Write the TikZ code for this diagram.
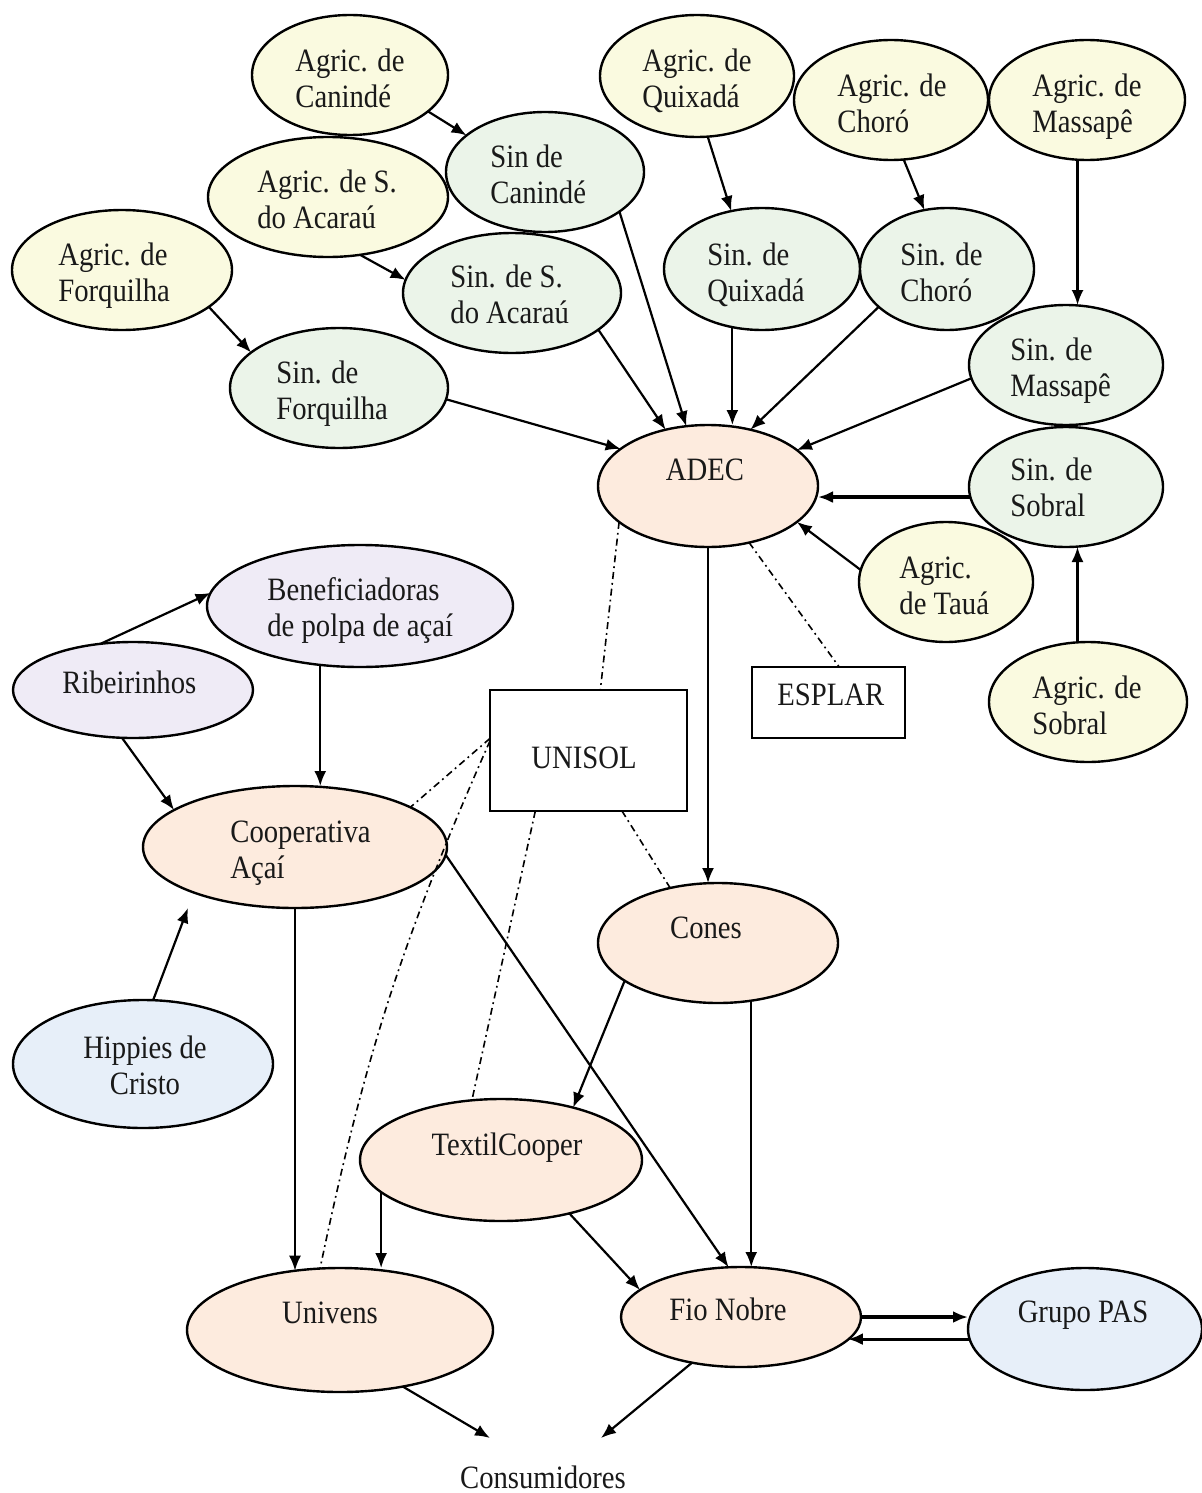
\documentclass[tikz,border=0pt]{standalone}
\usepackage{fontspec}
\setmainfont{Liberation Serif}[FakeStretch=0.88]
\usetikzlibrary{shapes.geometric,arrows.meta,calc}
\definecolor{cyel}{RGB}{250,250,224}
\definecolor{cgrn}{RGB}{235,244,233}
\definecolor{cpnk}{RGB}{253,235,222}
\definecolor{clav}{RGB}{239,235,246}
\definecolor{cblu}{RGB}{231,239,249}
\newcommand\twol[2]{\vtop{\hbox{#1}\hbox{#2}}}
\newcommand\twoc[2]{\vtop{\halign{\hfil##\hfil\cr#1\cr#2\cr}}}
\begin{document}
\begin{tikzpicture}[x=0.5pt,y=-0.5pt,
  ell/.style={ellipse, draw=black, line width=1.2pt, inner sep=0pt, outer sep=0pt},
  box/.style={rectangle, draw=black, line width=1.2pt, inner sep=0pt, outer sep=0pt, fill=white},
  lbl/.style={inner sep=0pt, font=\fontsize{16.3}{18}\selectfont, text=black!90},
  arr/.style={-{Latex[length=7.5pt,width=6pt]}, line width=1.1pt},
  heavy/.style={line width=1.6pt},
  dd/.style={line width=0.8pt, dash pattern=on 3.5pt off 2pt on 0.9pt off 2pt},
]
\useasboundingbox (0,0) rectangle (1202,1493);

% ---- ellipses ----
\node[ell, fill=cyel, minimum width=98pt, minimum height=60pt] (agcan) at (350,75) {};
\node[ell, fill=cyel, minimum width=97pt, minimum height=61pt] (agqui) at (697,76) {};
\node[ell, fill=cyel, minimum width=97pt, minimum height=60pt] (agcho) at (891,100) {};
\node[ell, fill=cyel, minimum width=98pt, minimum height=60pt] (agmas) at (1087,100) {};
\node[ell, fill=cgrn, minimum width=99pt, minimum height=60pt] (sincan) at (545,172) {};
\node[ell, fill=cyel, minimum width=120pt, minimum height=60pt] (agaca) at (328,197) {};
\node[ell, fill=cyel, minimum width=110pt, minimum height=60pt] (agfor) at (122,270) {};
\node[ell, fill=cgrn, minimum width=109pt, minimum height=60pt] (sinaca) at (512,293) {};
\node[ell, fill=cgrn, minimum width=98pt, minimum height=61pt] (sinqui) at (762,269) {};
\node[ell, fill=cgrn, minimum width=87pt, minimum height=61pt] (sincho) at (947,269) {};
\node[ell, fill=cgrn, minimum width=109pt, minimum height=60pt] (sinfor) at (339,388) {};
\node[ell, fill=cgrn, minimum width=97pt, minimum height=60pt] (sinmas) at (1066,365) {};
\node[ell, fill=cpnk, minimum width=110pt, minimum height=61pt] (adec) at (708,486) {};
\node[ell, fill=cgrn, minimum width=97pt, minimum height=60pt] (sinsob) at (1066,487) {};
\node[ell, fill=cyel, minimum width=87pt, minimum height=60pt] (agtau) at (946,582) {};
\node[ell, fill=cyel, minimum width=99pt, minimum height=60pt] (agsob) at (1088,702) {};
\node[ell, fill=clav, minimum width=153pt, minimum height=61pt] (benef) at (360,606) {};
\node[ell, fill=clav, minimum width=120pt, minimum height=48pt] (ribe) at (133,690) {};
\node[ell, fill=cpnk, minimum width=152pt, minimum height=61pt] (coop) at (295,847) {};
\node[ell, fill=cpnk, minimum width=120pt, minimum height=60pt] (cones) at (718,943) {};
\node[ell, fill=cblu, minimum width=130pt, minimum height=64pt] (hipp) at (143,1064) {};
\node[ell, fill=cpnk, minimum width=141pt, minimum height=61pt] (textil) at (501,1160) {};
\node[ell, fill=cpnk, minimum width=153pt, minimum height=62pt] (univ) at (340,1330) {};
\node[ell, fill=cpnk, minimum width=120pt, minimum height=50pt] (fio) at (741,1317) {};
\node[ell, fill=cblu, minimum width=117pt, minimum height=61pt] (pas) at (1085,1329) {};

% ---- boxes ----
\node[box, minimum width=76.5pt, minimum height=35.5pt] (esplar) at (828.5,702.5) {};
\node[box, minimum width=98.5pt, minimum height=60.5pt] (unisol) at (588.5,750.5) {};

% ---- labels ----
\node[lbl, anchor=base west] (agcan-t) at (295,72) {\twol{Agric. de}{Canindé}};
\node[lbl, anchor=base west] (agqui-t) at (642,72) {\twol{Agric. de}{Quixadá}};
\node[lbl, anchor=base west] (agcho-t) at (837,97) {\twol{Agric. de}{Choró}};
\node[lbl, anchor=base west] (agmas-t) at (1032,97) {\twol{Agric. de}{Massapê}};
\node[lbl, anchor=base west] (sincan-t) at (490,167) {\twol{Sin de}{Canindé}};
\node[lbl, anchor=base west] (agaca-t) at (257,192) {\twol{Agric. de S.}{do Acaraú}};
\node[lbl, anchor=base west] (agfor-t) at (58,265) {\twol{Agric. de}{Forquilha}};
\node[lbl, anchor=base west] (sinaca-t) at (450,287) {\twol{Sin. de S.}{do Acaraú}};
\node[lbl, anchor=base west] (sinqui-t) at (707,265) {\twol{Sin. de}{Quixadá}};
\node[lbl, anchor=base west] (sincho-t) at (900,265) {\twol{Sin. de}{Choró}};
\node[lbl, anchor=base west] (sinfor-t) at (276,383) {\twol{Sin. de}{Forquilha}};
\node[lbl, anchor=base west] (sinmas-t) at (1010,360) {\twol{Sin. de}{Massapê}};
\node[lbl, anchor=base] (adec-t) at (705,480) {ADEC};
\node[lbl, anchor=base west] (sinsob-t) at (1010,480) {\twol{Sin. de}{Sobral}};
\node[lbl, anchor=base west] (agtau-t) at (899,578) {\twol{Agric.}{de Tauá}};
\node[lbl, anchor=base west] (agsob-t) at (1032,698) {\twol{Agric. de}{Sobral}};
\node[lbl, anchor=base west] (esplar-t) at (777,705) {ESPLAR};
\node[lbl, anchor=base] (unisol-t) at (584,768) {UNISOL};
\node[lbl, anchor=base west] (benef-t) at (267,600) {\twol{Beneficiadoras}{de polpa de açaí}};
\node[lbl, anchor=base west] (ribe-t) at (62,693) {Ribeirinhos};
\node[lbl, anchor=base west] (coop-t) at (230,842) {\twol{Cooperativa}{Açaí}};
\node[lbl, anchor=base] (cones-t) at (706,938) {Cones};
\node[lbl, anchor=base] (hipp-t) at (145,1058) {\twoc{Hippies de}{Cristo}};
\node[lbl, anchor=base] (textil-t) at (507,1155) {TextilCooper};
\node[lbl, anchor=base] (univ-t) at (330,1323) {Univens};
\node[lbl, anchor=base] (fio-t) at (728,1320) {Fio Nobre};
\node[lbl, anchor=base] (pas-t) at (1083,1322) {Grupo PAS};
\node[lbl, anchor=base] (cons) at (543,1488) {Consumidores};

% ---- solid arrows ----
\draw[arr] (agcan.-25.4) -- (sincan.155.8);
\draw[arr] (agaca.-61.5) -- (sinaca.173.2);
\draw[arr] (agfor.-23.4) -- (sinfor.158.1);
\draw[arr] (agqui.-80) -- (sinqui.118);
\draw[arr] (agcho.-78.9) -- (sincho.111.5);
\draw[arr] (agmas.-99.5) -- (agmas.-99.5 |- sinmas.north);
\draw[arr] (sinfor.-6.3) -- (adec.157.1);
\draw[arr] (sinaca.-23.4) -- (adec.127.7);
\draw[arr] (sincan.-28) -- (adec.110.7);
\draw[arr] (sinqui.-117.7) -- (sinqui.-117.7 |- adec.north);
\draw[arr] (sincho.-151) -- (adec.53.6);
\draw[arr] (sinmas.-172.4) -- (adec.22.4);
\draw[arr, heavy] (sinsob.186.5) -- (sinsob.186.5 -| adec.east);
\draw[arr] (agtau.172) -- (adec.-22.6);
\draw[arr] (agsob.100.4) -- (agsob.100.4 |- sinsob.south);
\draw[arr] (adec.south) -- (adec.south |- cones.north);
\draw[arr] (ribe.125) -- (benef.175.9);
\draw[arr] (ribe.-103) -- (coop.163.9);
\draw[arr] (benef.-124.5) -- (benef.-124.5 |- coop.north);
\coordinate (hippend) at (188,908);
\draw[arr] (hipp.81) -- (hippend);
\draw[arr] (coop.south) -- (coop.south |- univ.127.3);
\draw[arr] (coop.-3.8) -- (fio.104.9);
\draw[arr] (cones.202.1) -- (textil.36.5);
\draw[arr] (cones.-60.5) -- (cones.-60.5 |- fio.north);
\draw[arr] (textil.195.6) -- (textil.195.6 |- univ.north);
\draw[arr] (textil.-38.3) -- (fio.165.8);
\draw[arr, heavy] (fio.east) -- (fio.east -| pas.west);
\draw[arr, heavy] (pas.185.4) -- (pas.185.4 -| fio.-12.2);
\coordinate (consA) at (490,1438);
\coordinate (consB) at (601,1438);
\draw[arr] (univ.-42.7) -- (consA);
\draw[arr] (fio.-137.8) -- (consB);

% ---- dash-dot links ----
\draw[dd] (adec.202.8) -- ($(unisol.north west)!0.56!(unisol.north east)$);
\draw[dd] (adec.-54.3) -- ($(esplar.north west)!0.57!(esplar.north east)$);
\draw[dd] ($(unisol.north west)!0.4!(unisol.south west)$) -- (coop.19.2);
\draw[dd] ($(unisol.north west)!0.42!(unisol.south west)$) to[bend right=6] (univ.108.7);
\draw[dd] ($(unisol.south west)!0.23!(unisol.south east)$) -- (textil.116.6);
\draw[dd] ($(unisol.south west)!0.67!(unisol.south east)$) -- (cones.131.1);
\end{tikzpicture}
\end{document}
